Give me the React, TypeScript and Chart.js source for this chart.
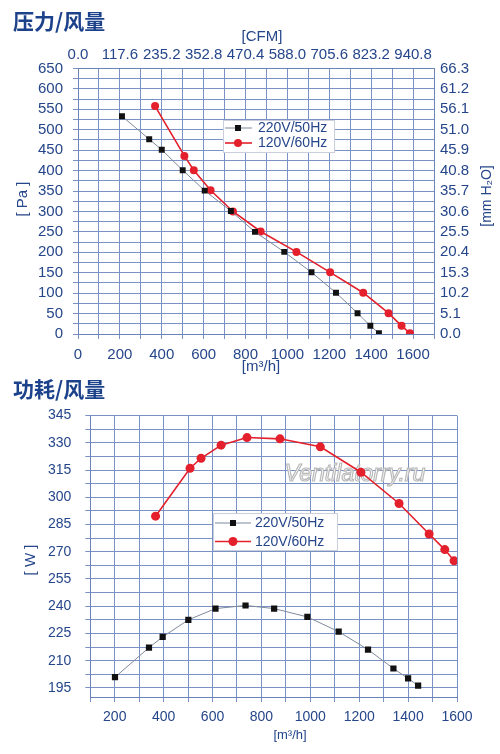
import React, { useEffect, useRef } from "react";
import { Chart, registerables } from "chart.js";

Chart.register(...registerables);

// ---------- DATA ----------
const seriesNames = ["220V/50Hz", "120V/60Hz"];

// Pressure / airflow (top chart)
const pressureFlow220 = [210, 340, 400, 500, 605, 730, 845, 985, 1115, 1232, 1335, 1396, 1437];
const pressure220 = [533, 477, 451, 401, 351, 301, 250, 201, 151, 101, 51, 20, 2];
const pressureFlow120 = [368, 508, 553, 633, 740, 872, 1043, 1204, 1362, 1483, 1545, 1585];
const pressure120 = [558, 436, 401, 352, 300, 251, 201, 151, 101, 51, 20, 2];

// Power / airflow (bottom chart)
const powerFlow220 = [201, 340, 396, 501, 612, 735, 852, 988, 1116, 1236, 1340, 1400, 1441];
const power220 = [200.9, 217.2, 223.1, 232.5, 238.7, 240.4, 238.7, 234.1, 226, 216.1, 205.7, 200.2, 196.3];
const powerFlow120 = [367, 508, 553, 635, 741, 876, 1041, 1207, 1363, 1486, 1550, 1588];
const power120 = [289.6, 316, 321.5, 328.7, 332.9, 332.2, 327.8, 313.8, 296.6, 279.8, 271.2, 265];

// Tick labels
const flowTicks = [0, 200, 400, 600, 800, 1000, 1200, 1400, 1600];
const cfmLabels = ["0.0", "117.6", "235.2", "352.8", "470.4", "588.0", "705.6", "823.2", "940.8"];
const pressureTicks = [0, 50, 100, 150, 200, 250, 300, 350, 400, 450, 500, 550, 600, 650];
const mmH2OLabels = ["0.0", "5.1", "10.2", "15.3", "20.4", "25.5", "30.6", "35.7", "40.8", "45.9", "51.0", "56.1", "61.2", "66.3"];
const powerTicks = [195, 210, 225, 240, 255, 270, 285, 300, 315, 330, 345];

// ---------- STYLE ----------
const TEXT = "#25468a";
const TITLE = "#1d428c";
const GRID = "#7a91c4";
const BORDER = "#6a83b9";
const FONT = "'Liberation Sans', Arial, sans-serif";
const CJK = "'Noto Sans CJK SC', sans-serif";
const RED = "#e3202b";
const BLACK_LINE = "#7d899c";

type TextItem = { text: string; x: number; y: number; size: number; rot?: number; align?: CanvasTextAlign; font?: string; bold?: boolean; color?: string };
type LegendCfg = { left: number; top: number; right: number; bottom: number; rows: number[]; lineX0: number; lineX1: number; markerX: number; textX: number; size: number; markerR: number[] };

function makeOverlay(texts: TextItem[], legend: LegendCfg, watermark?: { x: number; y: number; size: number }) {
  return {
    id: "overlay",
    beforeDatasetsDraw(chart: any) {
      if (!watermark) return;
      const ctx = chart.ctx as CanvasRenderingContext2D;
      ctx.save();
      ctx.font = `italic ${watermark.size}px ${FONT}`;
      ctx.textAlign = "center";
      ctx.textBaseline = "middle";
      ctx.fillStyle = "rgba(255,255,255,0.95)";
      ctx.strokeStyle = "#b9b9b9";
      ctx.lineWidth = 1.2;
      ctx.fillText("Ventilatorry.ru", watermark.x, watermark.y);
      ctx.strokeText("Ventilatorry.ru", watermark.x, watermark.y);
      ctx.restore();
    },
    afterDraw(chart: any) {
      const ctx = chart.ctx as CanvasRenderingContext2D;
      texts.forEach((t) => {
        ctx.save();
        ctx.font = `${t.bold ? "bold " : ""}${t.size}px ${t.font || FONT}`;
        ctx.fillStyle = t.color || TEXT;
        ctx.textAlign = t.align || "center";
        ctx.textBaseline = "middle";
        ctx.translate(t.x, t.y);
        if (t.rot) ctx.rotate(t.rot);
        ctx.fillText(t.text, 0, 0);
        ctx.restore();
      });
      // legend
      ctx.save();
      ctx.fillStyle = "#ffffff";
      ctx.fillRect(legend.left, legend.top, legend.right - legend.left, legend.bottom - legend.top);
      ctx.strokeStyle = "#c9cfdc";
      ctx.lineWidth = 1;
      ctx.strokeRect(legend.left + 0.5, legend.top + 0.5, legend.right - legend.left, legend.bottom - legend.top);
      chart.data.datasets.forEach((ds: any, i: number) => {
        const y = legend.rows[i];
        ctx.strokeStyle = ds.borderColor;
        ctx.lineWidth = ds.borderWidth;
        ctx.beginPath();
        ctx.moveTo(legend.lineX0, y);
        ctx.lineTo(legend.lineX1, y);
        ctx.stroke();
        ctx.fillStyle = ds.pointBackgroundColor;
        const r = legend.markerR[i];
        if (ds.pointStyle === "rect") {
          ctx.fillRect(legend.markerX - r, y - r, 2 * r, 2 * r);
        } else {
          ctx.beginPath();
          ctx.arc(legend.markerX, y, r, 0, Math.PI * 2);
          ctx.fill();
        }
        ctx.fillStyle = TEXT;
        ctx.font = `${legend.size}px ${FONT}`;
        ctx.textAlign = "left";
        ctx.textBaseline = "middle";
        ctx.fillText(ds.label, legend.textX, y + 0.5);
      });
      ctx.restore();
    },
  };
}

function gridOpts() {
  return { color: GRID, lineWidth: 1, tickLength: 5, drawTicks: true, tickColor: GRID };
}

function TopChart() {
  const ref = useRef<HTMLCanvasElement | null>(null);
  useEffect(() => {
    if (!ref.current) return;
    const tickFont = { family: FONT, size: 15 };
    const chart = new Chart(ref.current, {
      type: "line",
      data: {
        datasets: [
          {
            label: seriesNames[0],
            data: pressureFlow220.map((x, i) => ({ x, y: pressure220[i] })),
            borderColor: BLACK_LINE,
            borderWidth: 1,
            pointStyle: "rect",
            pointRadius: 4.2,
            pointBackgroundColor: "#111111",
            pointBorderWidth: 0,
            xAxisID: "x",
            yAxisID: "y",
          },
          {
            label: seriesNames[1],
            data: pressureFlow120.map((x, i) => ({ x, y: pressure120[i] })),
            borderColor: RED,
            borderWidth: 1.6,
            pointStyle: "circle",
            pointRadius: 4,
            pointBackgroundColor: RED,
            pointBorderWidth: 0,
            xAxisID: "x",
            yAxisID: "y",
          },
        ],
      },
      options: {
        animation: false,
        responsive: false,
        devicePixelRatio: 1,
        layout: { padding: 0 },
        plugins: { legend: { display: false }, tooltip: { enabled: false }, title: { display: false } },
        scales: {
          x: {
            type: "linear",
            position: "bottom",
            min: 0,
            max: 1700,
            grid: gridOpts(),
            border: { color: BORDER },
            ticks: {
              stepSize: 100,
              autoSkip: false,
              maxRotation: 0,
              padding: 7,
              color: TEXT,
              font: tickFont,
              callback: (v: any) => (flowTicks.includes(Number(v)) ? String(v) : ""),
            },
            afterFit: (s: any) => { s.height = 41; },
          },
          x2: {
            type: "linear",
            position: "top",
            min: 0,
            max: 1700,
            grid: { display: false, drawTicks: false },
            border: { color: BORDER },
            afterBuildTicks: (s: any) => { s.ticks = flowTicks.map((v) => ({ value: v })); },
            ticks: {
              autoSkip: false,
              maxRotation: 0,
              padding: 5,
              color: TEXT,
              font: tickFont,
              callback: (v: any) => cfmLabels[flowTicks.indexOf(Number(v))] ?? "",
            },
            afterFit: (s: any) => { s.height = 68.5; },
          },
          y: {
            type: "linear",
            position: "left",
            min: 0,
            max: 650,
            grid: gridOpts(),
            border: { color: BORDER },
            ticks: {
              stepSize: 25,
              autoSkip: false,
              padding: 10,
              color: TEXT,
              font: tickFont,
              callback: (v: any) => (pressureTicks.includes(Number(v)) ? String(v) : ""),
            },
            afterFit: (s: any) => { s.width = 78; },
          },
          y2: {
            type: "linear",
            position: "right",
            min: 0,
            max: 650,
            grid: { display: false, drawTicks: false },
            border: { color: BORDER },
            afterBuildTicks: (s: any) => { s.ticks = pressureTicks.map((v) => ({ value: v })); },
            ticks: {
              autoSkip: false,
              padding: 6,
              color: TEXT,
              font: tickFont,
              callback: (v: any) => mmH2OLabels[pressureTicks.indexOf(Number(v))] ?? "",
            },
            afterFit: (s: any) => { s.width = 66; },
          },
        },
      } as any,
      plugins: [
        makeOverlay(
          [
            { text: "压力/风量", x: 13, y: 21, size: 21, align: "left", font: CJK, bold: true, color: TITLE },
            { text: "[CFM]", x: 262, y: 37, size: 15 },
            { text: "[ Pa ]", x: 23, y: 199, size: 15, rot: -Math.PI / 2 },
            { text: "[mm H₂O]", x: 487, y: 196, size: 14, rot: -Math.PI / 2 },
            { text: "[m³/h]", x: 261, y: 367, size: 15 },
          ],
          { left: 223, top: 120, right: 334, bottom: 152, rows: [128, 143], lineX0: 225, lineX1: 252, markerX: 238, textX: 258, size: 14, markerR: [3, 4] }
        ) as any,
      ],
    });
    return () => chart.destroy();
  }, []);
  return <canvas ref={ref} width={500} height={375} style={{ display: "block", width: 500, height: 375 }} />;
}

function BottomChart() {
  const ref = useRef<HTMLCanvasElement | null>(null);
  useEffect(() => {
    if (!ref.current) return;
    const tickFont = { family: FONT, size: 14 };
    const chart = new Chart(ref.current, {
      type: "line",
      data: {
        datasets: [
          {
            label: seriesNames[0],
            data: powerFlow220.map((x, i) => ({ x, y: power220[i] })),
            borderColor: BLACK_LINE,
            borderWidth: 1,
            pointStyle: "rect",
            pointRadius: 4.4,
            pointBackgroundColor: "#111111",
            pointBorderWidth: 0,
          },
          {
            label: seriesNames[1],
            data: powerFlow120.map((x, i) => ({ x, y: power120[i] })),
            borderColor: RED,
            borderWidth: 1.6,
            pointStyle: "circle",
            pointRadius: 4.5,
            pointBackgroundColor: RED,
            pointBorderWidth: 0,
          },
        ],
      },
      options: {
        animation: false,
        responsive: false,
        devicePixelRatio: 1,
        layout: { padding: { top: 40.6, right: 43, left: 0, bottom: 0 } },
        plugins: { legend: { display: false }, tooltip: { enabled: false }, title: { display: false } },
        scales: {
          x: {
            type: "linear",
            min: 100,
            max: 1600,
            grid: gridOpts(),
            border: { color: BORDER },
            ticks: {
              stepSize: 100,
              autoSkip: false,
              maxRotation: 0,
              padding: 7,
              color: TEXT,
              font: tickFont,
              callback: (v: any) => (flowTicks.includes(Number(v)) ? String(v) : ""),
            },
            afterFit: (s: any) => { s.height = 57; },
          },
          y: {
            type: "linear",
            min: 190,
            max: 345,
            grid: gridOpts(),
            border: { color: BORDER },
            afterBuildTicks: (s: any) => {
              const t: { value: number }[] = [];
              powerTicks.forEach((v, i) => {
                t.push({ value: v });
                if (i < powerTicks.length - 1) t.push({ value: (v + powerTicks[i + 1]) / 2 });
              });
              s.ticks = t;
            },
            ticks: {
              autoSkip: false,
              padding: 14,
              color: TEXT,
              font: tickFont,
              callback: (v: any) => (powerTicks.includes(Number(v)) ? String(v) : ""),
            },
            afterFit: (s: any) => { s.width = 90.3; },
          },
        },
      } as any,
      plugins: [
        makeOverlay(
          [
            { text: "功耗/风量", x: 13, y: 14, size: 21, align: "left", font: CJK, bold: true, color: TITLE },
            { text: "[ W ]", x: 31, y: 185, size: 15, rot: -Math.PI / 2 },
            { text: "[m³/h]", x: 290, y: 360, size: 13 },
          ],
          { left: 213, top: 138, right: 337, bottom: 175, rows: [148, 166.5], lineX0: 215, lineX1: 251, markerX: 233, textX: 255, size: 14, markerR: [3, 4.5] },
          { x: 355, y: 100, size: 23 }
        ) as any,
      ],
    });
    return () => chart.destroy();
  }, []);
  return <canvas ref={ref} width={500} height={379} style={{ display: "block", width: 500, height: 379 }} />;
}

export default function App() {
  return (
    <div style={{ position: "absolute", left: 0, top: 0, width: 500, height: 754, background: "#ffffff" }}>
      <TopChart />
      <BottomChart />
    </div>
  );
}
